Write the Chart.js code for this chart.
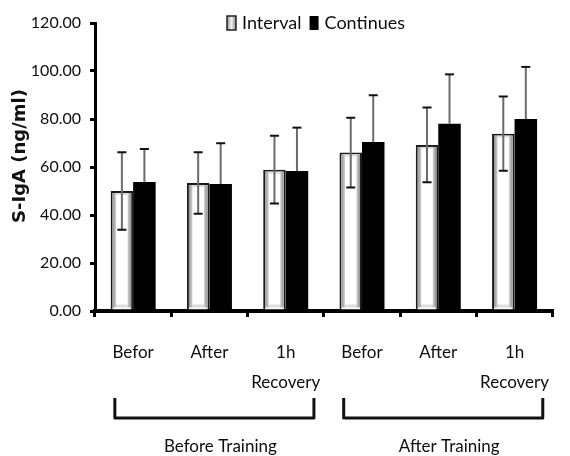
<!DOCTYPE html>
<html>
<head>
<meta charset="utf-8">
<script src="https://cdn.jsdelivr.net/npm/chart.js@4"></script>
<style>
  html, body { margin: 0; padding: 0; background: #fff; }
  #wrap { width: 570px; height: 456px; position: relative; }
</style>
</head>
<body>
<div id="wrap"><canvas id="c" width="570" height="456"></canvas></div>
<script>
// ---- data ----
const categories = ['Befor', 'After', ['1h', 'Recovery'], 'Befor', 'After', ['1h', 'Recovery']];
const groups = ['Before Training', 'After Training'];
const seriesNames = ['Interval', 'Continues'];
const yTitle = 'S-IgA (ng/ml)';
const intervalMean = [50.0, 53.3, 58.9, 66.0, 69.2, 73.9];
const intervalErr  = [16.1, 12.8, 14.1, 14.5, 15.6, 15.5];
const continuesMean = [53.8, 52.9, 58.3, 70.4, 78.0, 80.0];
const continuesErr  = [13.7, 17.0, 18.1, 19.5, 20.6, 21.7];
const yTicks = [0, 20, 40, 60, 80, 100, 120];

const NARROW = "Lato, 'Open Sans', sans-serif";
const TXT = '#0d0d0d';

const errorsPlugin = {
  id: 'errs',
  afterDatasetsDraw(chart) {
    const ctx = chart.ctx;
    const ys = chart.scales.y;
    const m0 = chart.getDatasetMeta(0);
    m0.data.forEach(el => {
      const b = 2;
      const l = el.x - el.width / 2 + b, r = el.x + el.width / 2 - b;
      const t = el.y + b, btm = el.base - b;
      ctx.save();
      const g = ctx.createLinearGradient(l, 0, r, 0);
      g.addColorStop(0, '#8f8f8f');
      g.addColorStop(0.22, '#dedede');
      g.addColorStop(0.78, '#dedede');
      g.addColorStop(1, '#8f8f8f');
      ctx.fillStyle = g;
      ctx.fillRect(l, t, r - l, btm - t);
      ctx.fillStyle = '#ffffff';
      ctx.fillRect(l + 3.5, t + 2, r - l - 7, btm - t - 5);
      ctx.restore();
    });
    const sets = [
      { mean: intervalMean, err: intervalErr, both: true },
      { mean: continuesMean, err: continuesErr, both: false }
    ];
    sets.forEach((s, di) => {
      const meta = chart.getDatasetMeta(di);
      meta.data.forEach((el, i) => {
        const x = el.x;
        const yTop = ys.getPixelForValue(s.mean[i] + s.err[i]);
        const yMid = ys.getPixelForValue(s.mean[i]);
        const yBot = ys.getPixelForValue(s.mean[i] - s.err[i]);
        ctx.save();
        ctx.strokeStyle = '#6b6b6b';
        ctx.lineWidth = 2;
        ctx.beginPath();
        ctx.moveTo(x, yTop);
        ctx.lineTo(x, s.both ? yBot : yMid);
        ctx.stroke();
        ctx.strokeStyle = '#111';
        ctx.lineWidth = 2;
        ctx.beginPath();
        ctx.moveTo(x - 4.5, yTop); ctx.lineTo(x + 4.5, yTop);
        if (s.both) { ctx.moveTo(x - 4.5, yBot); ctx.lineTo(x + 4.5, yBot); }
        ctx.stroke();
        ctx.restore();
      });
    });
  },
  afterDraw(chart) {
    const ctx = chart.ctx;
    const xs = chart.scales.x;
    const ca = chart.chartArea;
    const cw = xs.getPixelForValue(1) - xs.getPixelForValue(0);
    // y-axis title
    ctx.save();
    ctx.translate(20, ca.top + (ca.bottom - ca.top) / 2 - 11);
    ctx.rotate(-Math.PI / 2);
    ctx.font = "bold 18px 'DejaVu Sans', sans-serif";
    ctx.fillStyle = '#111';
    ctx.textAlign = 'center';
    ctx.textBaseline = 'middle';
    ctx.fillText(yTitle, 0, 0);
    ctx.restore();
    // brackets + group labels
    const spans = [[0, 2], [3, 5]];
    spans.forEach((sp, gi) => {
      const x0 = xs.getPixelForValue(sp[0]) - 0.24 * cw;
      const x1 = xs.getPixelForValue(sp[1]) + 0.37 * cw;
      const yT = ca.bottom + 87, yB = ca.bottom + 107;
      ctx.save();
      ctx.strokeStyle = '#111';
      ctx.lineWidth = 3;
      ctx.lineJoin = 'round';
      ctx.beginPath();
      ctx.moveTo(x0, yT); ctx.lineTo(x0, yB); ctx.lineTo(x1, yB); ctx.lineTo(x1, yT);
      ctx.stroke();
      ctx.fillStyle = TXT;
      ctx.font = "17px " + NARROW;
      ctx.textAlign = 'center';
      ctx.textBaseline = 'middle';
      ctx.fillText(groups[gi], (x0 + x1) / 2 + 6, ca.bottom + 136);
      ctx.restore();
    });
    // legend
    ctx.save();
    ctx.font = "18px " + NARROW;
    ctx.textBaseline = 'middle';
    const w1 = ctx.measureText(chart.data.datasets[0].label).width;
    const w2 = ctx.measureText(chart.data.datasets[1].label).width;
    const bw = 9, bh = 14, gap = 6, gap2 = 8;
    const total = bw + gap + w1 + gap2 + bw + gap + w2;
    let x = 316 - total / 2;
    const cy = 23;
    const g = ctx.createLinearGradient(x, 0, x + bw, 0);
    g.addColorStop(0, '#9a9a9a'); g.addColorStop(0.5, '#f0f0f0'); g.addColorStop(1, '#8a8a8a');
    ctx.fillStyle = g;
    ctx.fillRect(x, cy - bh / 2, bw, bh);
    ctx.strokeStyle = '#222'; ctx.lineWidth = 1.5;
    ctx.strokeRect(x, cy - bh / 2, bw, bh);
    x += bw + gap;
    ctx.fillStyle = TXT;
    ctx.fillText(chart.data.datasets[0].label, x, cy);
    x += w1 + gap2;
    ctx.fillStyle = '#000';
    ctx.fillRect(x, cy - bh / 2, bw, bh);
    x += bw + gap;
    ctx.fillStyle = TXT;
    ctx.fillText(chart.data.datasets[1].label, x, cy);
    ctx.restore();
  }
};

new Chart(document.getElementById('c'), {
  type: 'bar',
  data: {
    labels: categories,
    datasets: [
      { label: seriesNames[0], data: intervalMean, backgroundColor: '#ffffff', borderColor: '#1a1a1a', borderWidth: 2, barPercentage: 1, categoryPercentage: 0.59 },
      { label: seriesNames[1], data: continuesMean, backgroundColor: '#000000', borderColor: '#000000', borderWidth: 0, barPercentage: 1, categoryPercentage: 0.59 }
    ]
  },
  options: {
    responsive: false,
    animation: false,
    devicePixelRatio: 1,
    layout: { padding: { top: 23, right: 0, left: 0, bottom: 0 } },
    plugins: { legend: { display: false }, tooltip: { enabled: false } },
    scales: {
      y: {
        min: 0, max: 120,
        afterBuildTicks(s) { s.ticks = yTicks.map(v => ({ value: v })); },
        afterFit(s) { s.width = 95; },
        ticks: { color: TXT, font: { family: NARROW, size: 16 }, padding: 9, callback: v => Number(v).toFixed(2) },
        grid: { drawOnChartArea: false, drawTicks: true, tickLength: 5, color: '#000', lineWidth: 3 },
        border: { color: '#000', width: 3 },
        title: { display: false }
      },
      x: {
        afterFit(s) { s.height = 145; },
        ticks: { color: TXT, font: { family: NARROW, size: 17, lineHeight: 1.75 }, padding: 21, maxRotation: 0, autoSkip: false },
        grid: { drawOnChartArea: false, drawTicks: true, tickLength: 6, color: '#000', lineWidth: 3, offset: true },
        border: { color: '#000', width: 4 }
      }
    }
  },
  plugins: [errorsPlugin]
});
</script>
</body>
</html>
